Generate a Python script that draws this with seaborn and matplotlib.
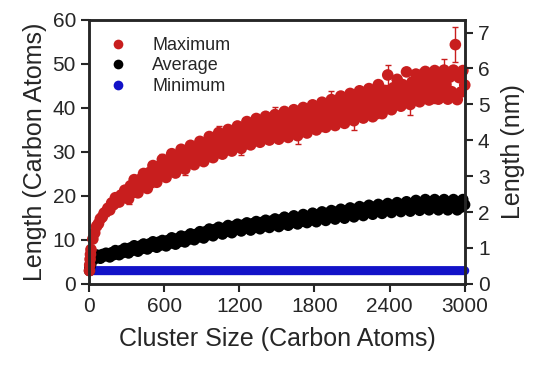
import pandas as pd
import numpy as np
import matplotlib
matplotlib.use('Agg')
import matplotlib.pyplot as plt
import seaborn as sns

# 클러스터 크기 (탄소 원자 수)
sizes = [3, 5, 8, 11] + list(range(15, 3001, 15))

# 최대 길이 (탄소 원자), 그림에서 읽은 값 (150 원자씩 한 줄)
maximum = [3.0, 4.3, 5.6, 6.7,
           7.8, 10.2, 11.6, 13.1, 13.7, 14.8, 15.2, 16.1, 16.4, 17.2,
           16.8, 18.4, 18.0, 19.6, 19.1, 18.6, 20.2, 19.7, 21.3, 20.8,
           19.3, 22.3, 20.7, 23.7, 22.2, 20.7, 23.7, 22.1, 25.1, 23.6,
           21.7, 25.3, 23.3, 26.9, 25.0, 23.1, 26.7, 24.7, 28.3, 26.4,
           24.2, 28.0, 25.8, 29.6, 27.4, 25.2, 29.0, 26.8, 30.6, 28.4,
           26.1, 29.9, 27.7, 31.5, 29.3, 27.1, 30.9, 28.6, 32.4, 30.2,
           27.8, 31.9, 29.5, 33.5, 31.1, 28.7, 32.8, 30.3, 34.4, 31.9,
           29.5, 33.5, 31.1, 35.1, 32.7, 30.2, 34.3, 31.9, 35.9, 33.5,
           30.8, 35.2, 32.6, 36.9, 34.3, 31.6, 36.0, 33.3, 37.6, 34.9,
           32.2, 36.5, 33.8, 38.1, 35.4, 32.7, 37.0, 34.2, 38.5, 35.8,
           32.9, 37.5, 34.6, 39.2, 36.2, 33.3, 37.9, 35.0, 39.6, 36.6,
           33.7, 38.3, 35.5, 40.1, 37.2, 34.3, 39.0, 36.1, 40.7, 37.8,
           35.0, 39.6, 36.7, 41.3, 38.4, 35.6, 40.2, 37.3, 41.9, 39.0,
           36.0, 40.9, 37.8, 42.7, 39.6, 36.5, 41.5, 38.4, 43.3, 40.2,
           37.1, 42.0, 39.0, 43.9, 40.8, 37.7, 42.6, 39.5, 44.4, 41.3,
           38.0, 43.3, 40.0, 45.3, 42.0, 38.7, 44.0, 40.7, 47.5, 42.7,
           39.6, 44.6, 41.5, 46.5, 43.4, 40.4, 45.3, 42.2, 48.2, 44.0,
           40.8, 45.9, 42.6, 47.7, 44.6, 41.4, 46.5, 43.2, 48.3, 45.1,
           41.8, 46.9, 43.6, 48.5, 45.3, 42.0, 47.0, 43.7, 48.6, 45.3,
           42.0, 47.0, 43.7, 48.6, 54.4, 41.9, 46.9, 43.6, 48.5, 45.2]

# 오차 막대 (6번째 점마다)
max_err = [0.3, 0.8, 1.0, 1.1, 1.1, 1.2, 1.2, 1.3, 1.3, 1.4, 1.4, 1.5,
           1.5, 1.6, 1.6, 1.7, 1.7, 1.8, 1.8, 1.9, 1.9, 2.0, 2.0, 2.1,
           2.1, 2.2, 2.2, 2.3, 2.3, 2.4, 2.4, 2.5, 2.5, 4.0]

# 평균 길이
average = [3.0, 3.6, 4.2, 4.7,
           4.5, 5.9, 5.7, 6.6, 6.2, 5.8, 6.7, 6.3, 7.0, 6.6,
           6.1, 7.1, 6.6, 7.6, 7.1, 6.6, 7.6, 7.1, 8.1, 7.6,
           7.0, 8.2, 7.6, 8.7, 8.1, 7.4, 8.6, 8.0, 9.1, 8.5,
           7.9, 9.1, 8.5, 9.6, 8.9, 8.3, 9.5, 8.8, 9.9, 9.3,
           8.6, 9.9, 9.2, 10.5, 9.7, 9.0, 10.3, 9.6, 10.9, 10.2,
           9.5, 10.8, 10.1, 11.4, 10.7, 10.0, 11.3, 10.6, 11.9, 11.2,
           10.4, 11.9, 11.1, 12.5, 11.7, 10.9, 12.4, 11.6, 12.9, 12.1,
           11.3, 12.7, 11.9, 13.3, 12.4, 11.6, 13.1, 12.3, 13.6, 12.8,
           12.0, 13.4, 12.6, 13.9, 13.1, 12.2, 13.7, 12.8, 14.2, 13.4,
           12.5, 14.0, 13.1, 14.5, 13.7, 12.8, 14.3, 13.4, 14.8, 13.9,
           13.0, 14.6, 13.6, 15.2, 14.2, 13.3, 14.9, 13.9, 15.5, 14.5,
           13.6, 15.1, 14.2, 15.8, 14.8, 13.9, 15.4, 14.5, 16.1, 15.1,
           14.1, 15.8, 14.8, 16.4, 15.4, 14.4, 16.1, 15.1, 16.7, 15.7,
           14.7, 16.4, 15.4, 17.0, 16.0, 14.9, 16.7, 15.7, 17.3, 16.3,
           15.2, 17.0, 15.9, 17.6, 16.6, 15.5, 17.3, 16.2, 17.9, 16.8,
           15.8, 17.5, 16.5, 18.1, 17.0, 16.0, 17.7, 16.7, 18.3, 17.3,
           16.2, 17.9, 16.9, 18.5, 17.5, 16.4, 18.1, 17.1, 18.7, 17.7,
           16.5, 18.3, 17.2, 19.0, 17.8, 16.7, 18.5, 17.3, 19.2, 18.0,
           16.8, 18.6, 17.4, 19.2, 18.0, 16.8, 18.6, 17.4, 19.2, 18.0,
           16.8, 18.6, 17.4, 19.2, 18.0, 16.8, 18.6, 17.4, 19.2, 18.0]

# 최소 길이 (일정)
minimum = [3.0] * len(sizes)

series_names = ['Maximum', 'Average', 'Minimum']
colors = {'Maximum': '#C81E1E', 'Average': '#000000', 'Minimum': '#1212C8'}
marker_area = {'Maximum': 70, 'Average': 66, 'Minimum': 42}

# 그리는 순서: 최소 -> 평균 -> 최대 (빨강이 위)
df = pd.concat([
    pd.DataFrame({'size': sizes, 'length': minimum, 'series': 'Minimum'}),
    pd.DataFrame({'size': sizes, 'length': average, 'series': 'Average'}),
    pd.DataFrame({'size': sizes, 'length': maximum, 'series': 'Maximum'}),
], ignore_index=True)

sns.set_style('ticks')
plt.rcParams['font.family'] = ['Liberation Sans', 'DejaVu Sans']

fig = plt.figure(figsize=(5.5, 3.77), dpi=100)
ax = fig.add_axes([0.162, 0.247, 0.683, 0.700])

ax.errorbar(sizes[::6], maximum[::6], yerr=max_err, fmt='none', ecolor=colors['Maximum'],
            elinewidth=1.0, capsize=2.5, capthick=1.0, zorder=1, clip_on=False)
sns.scatterplot(data=df, x='size', y='length', hue='series', hue_order=series_names,
                size='series', sizes=marker_area, size_order=series_names,
                palette=colors, edgecolor='none', linewidth=0, ax=ax,
                zorder=2, clip_on=False)

ax.set_xlim(0, 3000)
ax.set_ylim(0, 60)
ax.set_xticks([0, 600, 1200, 1800, 2400, 3000])
ax.set_yticks([0, 10, 20, 30, 40, 50, 60])
ax.set_xlabel('Cluster Size (Carbon Atoms)', fontsize=18, labelpad=8)
ax.set_ylabel('Length (Carbon Atoms)', fontsize=18, labelpad=4)
ax.tick_params(labelsize=15, width=1.5, length=6, direction='out')
for sp in ax.spines.values():
    sp.set_linewidth(1.8)
    sp.set_visible(True)

handles, labels = ax.get_legend_handles_labels()
for h in handles:
    h.set_markersize(7)
ax.legend(handles, labels, loc='upper left', bbox_to_anchor=(0.0, 0.977),
          frameon=False, fontsize=13, handletextpad=0.9, labelspacing=0.2,
          borderaxespad=0.2)

# 오른쪽 축 (nm)
ax2 = ax.twinx()
ax2.set_ylim(0, 7.35)
ax2.set_yticks([0, 1, 2, 3, 4, 5, 6, 7])
ax2.set_ylabel('Length (nm)', fontsize=18, labelpad=8)
ax2.tick_params(labelsize=15, width=1.5, length=6, direction='out')
for sp in ax2.spines.values():
    sp.set_linewidth(1.8)

fig.savefig('out.png', dpi=100)
